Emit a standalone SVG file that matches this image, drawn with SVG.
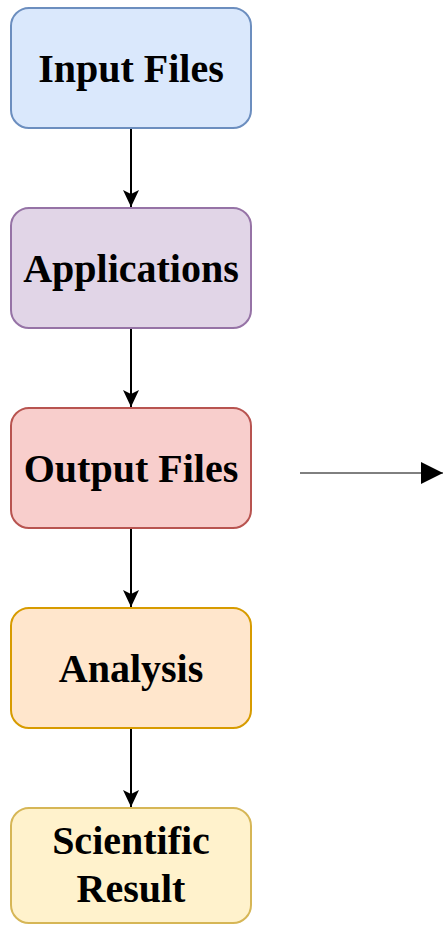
<svg xmlns="http://www.w3.org/2000/svg" width="444" height="925" viewBox="0 0 444 925">
  <style>
    .box { stroke-width: 2; }
    .label { font-family: "Liberation Serif", "Times New Roman", serif; font-weight: bold; font-size: 40px; fill: #000; text-anchor: middle; }
    .edge { stroke: #000; stroke-width: 2; fill: none; }
  </style>
  <defs>
    <marker id="classic" viewBox="0 0 18 18" refX="17" refY="9" markerWidth="18" markerHeight="18" markerUnits="userSpaceOnUse" orient="auto">
      <path d="M0,1 L17,9 L0,17 L4,9 Z" fill="#000"/>
    </marker>
    <marker id="block" viewBox="0 0 22 22" refX="22" refY="11" markerWidth="22" markerHeight="22" markerUnits="userSpaceOnUse" orient="auto">
      <path d="M0,0 L22,11 L0,22 Z" fill="#000"/>
    </marker>
  </defs>

  <g id="connectors">
    <line class="edge" x1="131" y1="129" x2="131" y2="207" marker-end="url(#classic)"/>
    <line class="edge" x1="131" y1="329" x2="131" y2="407" marker-end="url(#classic)"/>
    <line class="edge" x1="131" y1="529" x2="131" y2="607" marker-end="url(#classic)"/>
    <line class="edge" x1="131" y1="729" x2="131" y2="807" marker-end="url(#classic)"/>
    <line x1="300" y1="473" x2="443" y2="473" stroke="#000" stroke-width="1" marker-end="url(#block)"/>
  </g>

  <g id="input-files">
    <rect class="box" x="11" y="8" width="240" height="120" rx="18" fill="#dae8fc" stroke="#6c8ebf"/>
    <text class="label" x="131" y="82">Input Files</text>
  </g>

  <g id="applications">
    <rect class="box" x="11" y="208" width="240" height="120" rx="18" fill="#e1d5e7" stroke="#9673a6"/>
    <text class="label" x="131" y="282">Applications</text>
  </g>

  <g id="output-files">
    <rect class="box" x="11" y="408" width="240" height="120" rx="18" fill="#f8cecc" stroke="#b85450"/>
    <text class="label" x="131" y="482">Output Files</text>
  </g>

  <g id="analysis">
    <rect class="box" x="11" y="608" width="240" height="120" rx="18" fill="#ffe6cc" stroke="#d79b00"/>
    <text class="label" x="131" y="682">Analysis</text>
  </g>

  <g id="scientific-result">
    <rect class="box" x="11" y="808" width="240" height="115" rx="18" fill="#fff2cc" stroke="#d6b656"/>
    <text class="label" x="131" y="854">Scientific</text>
    <text class="label" x="131" y="902">Result</text>
  </g>
</svg>
